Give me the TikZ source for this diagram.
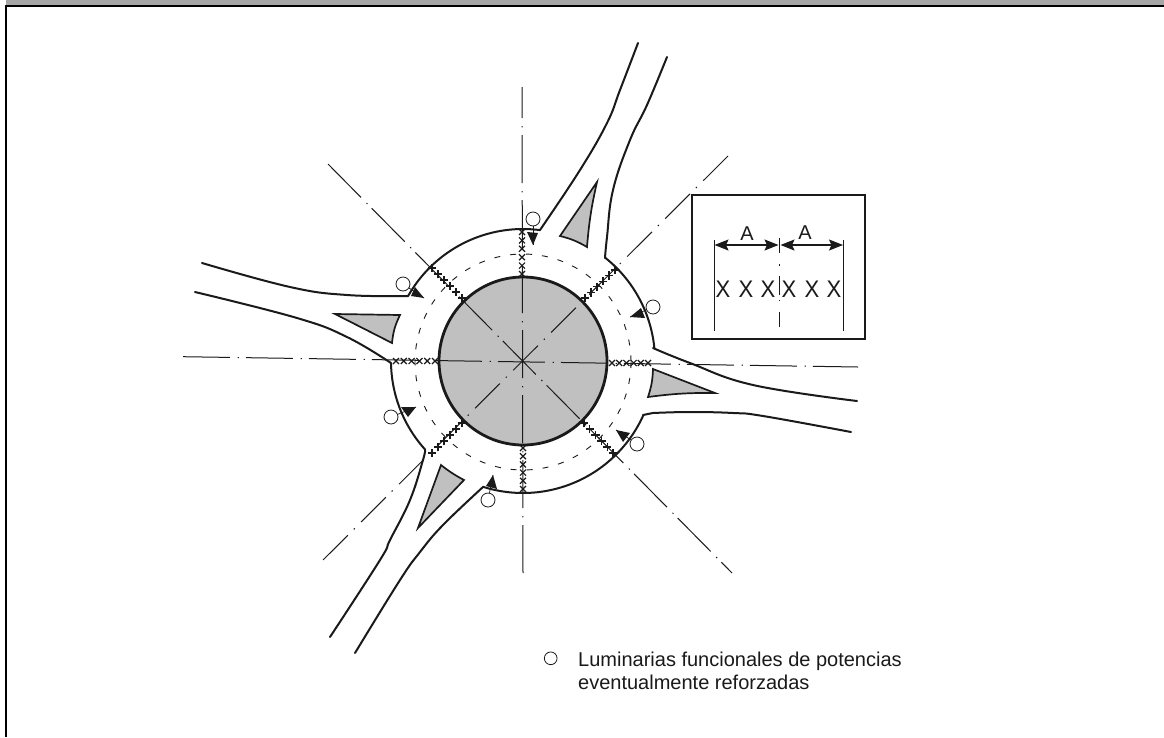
\documentclass[tikz,border=0pt]{standalone}
\usepackage{fontspec}
\usepackage{graphicx}
\setmainfont{Liberation Sans}
\usetikzlibrary{arrows.meta}
\definecolor{ink}{HTML}{1A1A1A}
\definecolor{island}{HTML}{C0C0C0}
\definecolor{band}{HTML}{A6A6A6}
\newcommand\crossrow[5]{%
  \foreach \i in {0,...,5}{%
    \pgfmathsetmacro\cx{#1+(#3-#1)*\i/5}%
    \pgfmathsetmacro\cy{#2+(#4-#2)*\i/5}%
    \draw[crossmark,shift={(\cx,\cy)},rotate=#5] (-3,-3)--(3,3) (-3,3)--(3,-3);
  }}
\newcommand\ringarc[2]{%
  \draw[road] plot[domain=#1:#2,samples=40,smooth] ({523+132*cos(\x)},{361+132*sin(\x)});}
\tikzset{
  road/.style={draw=ink,line width=2pt,line join=round,line cap=round},
  axisone/.style={draw=ink,line width=1pt,dash pattern=on 47pt off 7.6pt on 1.4pt off 7pt},
  axisdiaga/.style={draw=ink,line width=1pt,dash pattern=on 47pt off 7.8pt on 1.4pt off 6pt},
  axisdiagb/.style={draw=ink,line width=1pt,dash pattern=on 35pt off 9pt on 1.4pt off 8.3pt},
  axisvert/.style={draw=ink,line width=1pt,dash pattern=on 48pt off 8pt on 1.4pt off 7.6pt,dash phase=17pt},
  crossmark/.style={draw=ink,line width=1.2pt},
  islandshape/.style={draw=ink,fill=island,line width=1.7pt,line join=miter},
  headshape/.style={fill=ink,draw=none},
  lum/.style={circle,draw=ink,line width=.8pt,minimum size=14pt,inner sep=0pt,fill=white},
  stem/.style={draw=ink,line width=.7pt},
  insetline/.style={draw=ink,line width=1pt},
  dimline/.style={draw=ink,line width=1.1pt,{Stealth[length=14pt,width=11pt,inset=2.5pt]}-{Stealth[length=14pt,width=11pt,inset=2.5pt]}},
  bigx/.style={font=\fontsize{24}{24}\selectfont,text=ink,inner sep=0pt,anchor=center},
  biga/.style={font=\fontsize{20}{20}\selectfont,text=ink,inner sep=0pt,anchor=center},
  legend/.style={font=\fontsize{20}{23}\selectfont,text=ink,inner sep=0pt,anchor=base west}
}
\begin{document}
\begin{tikzpicture}[x=1pt,y=-1pt]
\useasboundingbox (0,0) rectangle (1164,737);
\fill[white] (0,0) rectangle (1164,737);
% frame
\fill[band] (6,0) rectangle (1164,5);
\fill[black] (5,5) rectangle (1164,7);
\fill[black] (5,5) rectangle (7,737);
% central island
\fill[island] (523,361) circle[radius=84];
% axes
\draw[axisvert] (522,87) -- (523,575);
\draw[axisone] (183,356.7) -- (858,367);
\draw[axisdiaga] (328,164) -- (732,573);
\draw[axisdiagb] (728,156) -- (318,565);
\draw[ink,line width=2.8pt] (523,361) circle[radius=84];
% dashed ring
\draw[draw=ink,line width=.9pt,dash pattern=on 6pt off 10pt] (523,362) circle[radius=108];
% outer ring arcs
\ringarc{209.5}{277.4}
\ringarc{-51.5}{-5.7}
\ringarc{24.2}{107.6}
\ringarc{137.8}{179.1}
% roads
\draw[road] plot[smooth,tension=.7] coordinates {(540,230) (580,170) (607,123) (620,90) (638,43)};
\draw[road] plot[smooth,tension=.7] coordinates {(605,258) (607,237) (613,190) (630,140) (647,105) (667,57)};
\draw[road] plot[smooth,tension=.7] coordinates {(653,348) (690,363) (753,385) (857,401)};
\draw[road] (643,415) -- (653,413);
\draw[road] plot[smooth,tension=.7] coordinates {(653,413) (690,412) (733,413) (763,416) (851,432)};
\draw[road] plot[smooth,tension=.7] coordinates {(483,487) (443,525) (420,552) (400,580) (355,653)};
\draw[road] plot[smooth,tension=.7] coordinates {(425,450) (423,460) (410,500) (390,540) (380,560) (330,637)};
\draw[road] plot[smooth,tension=.7] coordinates {(391,363) (347,337) (297,318) (195,292)};
\draw[road] plot[smooth,tension=.7] coordinates {(408,296) (347,295) (290,287) (202,263)};
% splitter islands
\draw[islandshape] (597,182) to[bend right=4] (587,247) to[bend right=8] (560,236) -- cycle;
\draw[islandshape] (335,314) -- (400,315) to[bend right=10] (392,343) -- cycle;
\draw[islandshape] (653,369) -- (715,393) to[bend right=4] (648,397) to[bend right=8] cycle;
\draw[islandshape] (441,465) to[bend right=5] (464,480) -- (418,528) -- cycle;
% luminaires
\node[lum] (lumN) at (533,219) {};
\node[lum] (lumNW) at (403,284) {};
\node[lum] (lumNE) at (653,307) {};
\node[lum] (lumSE) at (637,444) {};
\node[lum] (lumS) at (488,500) {};
\node[lum] (lumSW) at (391,417) {};
\coordinate (tipN) at (533,245);
\coordinate (tipNW) at (424,298);
\coordinate (tipNE) at (630,317);
\coordinate (tipSE) at (616,430);
\coordinate (tipS) at (493,475);
\coordinate (tipSW) at (416,407);
\draw[stem] (lumN) -- (tipN);
\draw[stem] (lumNW) -- (tipNW);
\draw[stem] (lumNE) -- (tipNE);
\draw[stem] (lumSE) -- (tipSE);
\draw[stem] (lumS) -- (tipS);
\draw[stem] (lumSW) -- (tipSW);
\fill[headshape] (tipN) -- (527,232) -- (538,233) -- cycle;
\fill[headshape] (tipNW) -- (415,287) -- (411,296) -- cycle;
\fill[headshape] (tipNE) -- (641,308) -- (645,318) -- cycle;
\fill[headshape] (tipSE) -- (630,433) -- (623,442) -- cycle;
\fill[headshape] (tipS) -- (486,486) -- (497,489) -- cycle;
\fill[headshape] (tipSW) -- (401,407) -- (408,417) -- cycle;
% crosses
\crossrow{522}{232}{522}{274}{0}
\crossrow{523}{448}{523}{489}{0}
\crossrow{612}{363}{648}{363}{0}
\crossrow{396}{361}{435}{361}{0}
\crossrow{432}{268}{462}{298}{45}
\crossrow{615}{270}{585}{298}{45}
\crossrow{432}{453}{462}{423}{45}
\crossrow{584}{423}{613}{453}{45}
% inset
\node[draw=ink,line width=2.2pt,fill=white,inner sep=0pt,minimum width=173pt,minimum height=144pt] (inset) at (778.5,267) {};
\coordinate (la) at (714,240); \coordinate (lb) at (714,331);
\coordinate (ra) at (843,240); \coordinate (rb) at (843,331);
\coordinate (ma) at (779,238); \coordinate (mb) at (779,327);
\coordinate (d1) at (714.5,245); \coordinate (d2) at (778.5,245);
\coordinate (d3) at (780.5,245); \coordinate (d4) at (843,245);
\draw[insetline] (la) -- (lb);
\draw[insetline] (ra) -- (rb);
\draw[draw=ink,line width=1pt,dash pattern=on 15pt off 11.3pt on 1.4pt off 10.3pt on 19pt off 5pt on 1.4pt off 10.3pt] (ma) -- (mb);
\draw[dimline] (d1) -- (d2);
\draw[dimline] (d3) -- (d4);
\node[biga] (aL) at (747,234) {A};
\node[biga] (aR) at (805,233) {A};
\node[bigx] (x1) at (723,289) {\scalebox{.92}[1]{X}};
\node[bigx] (x2) at (746,289) {\scalebox{.92}[1]{X}};
\node[bigx] (x3) at (768,289) {\scalebox{.92}[1]{X}};
\node[bigx] (x4) at (789,289) {\scalebox{.92}[1]{X}};
\node[bigx] (x5) at (812,289) {\scalebox{.92}[1]{X}};
\node[bigx] (x6) at (834,289) {\scalebox{.92}[1]{X}};
% legend
\node[lum,minimum size=12.7pt] (legc) at (550.7,658.3) {};
\node[legend] (leg1) at (578,666) {Luminarias funcionales de potencias};
\node[legend] (leg2) at (578,689) {eventualmente reforzadas};
\end{tikzpicture}
\end{document}
